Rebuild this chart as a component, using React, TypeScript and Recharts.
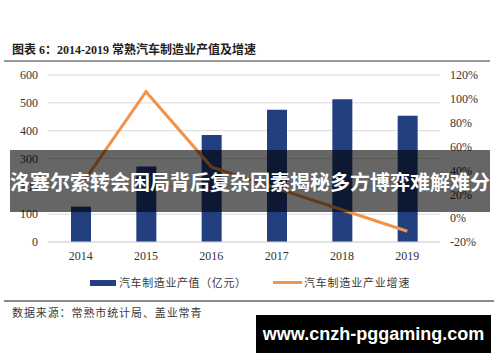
import React from "react";
import {
  ComposedChart,
  Bar,
  Line,
  XAxis,
  YAxis,
  CartesianGrid,
} from "recharts";

const years = ["2014", "2015", "2016", "2017", "2018", "2019"];
const outputValues = [127, 271, 384, 475, 513, 454];
const growthRates = [0.27, 1.06, 0.43, 0.25, 0.07, -0.11];
const leftTicks = [0, 100, 200, 300, 400, 500, 600];
const rightTicks = [-0.2, 0, 0.2, 0.4, 0.6, 0.8, 1.0, 1.2];

const seriesNames = ["汽车制造业产值（亿元）", "汽车制造业产业增速"];

const data = years.map((year, i) => ({
  year,
  output: outputValues[i],
  growth: growthRates[i],
}));

const BLUE = "#22407f";
const ORANGE = "#f39249";
const serif = '"Liberation Serif", "Times New Roman", "DejaVu Serif", serif';
const cjk = '"Noto Sans CJK SC", "Noto Sans", sans-serif';
const tickStyle = { fontFamily: serif, fontSize: 12, fill: "#333" };

export default function App() {
  return (
    <div
      style={{
        position: "absolute",
        left: 0,
        top: 0,
        width: 500,
        height: 362,
        background: "#fff",
        overflow: "hidden",
      }}
    >
      <div
        style={{
          position: "absolute",
          left: 12,
          top: 42,
          fontFamily: `"Liberation Serif", "Noto Sans CJK SC", serif`,
          fontWeight: 700,
          fontSize: 12,
          lineHeight: "16px",
          color: "#222",
          whiteSpace: "nowrap",
        }}
      >
        图表 6：2014-2019 常熟汽车制造业产值及增速
      </div>
      <div
        style={{
          position: "absolute",
          left: 4,
          top: 60,
          width: 486,
          height: 2,
          background: "#9a9a9a",
        }}
      />

      <div style={{ position: "absolute", left: 0, top: 0 }}>
        <ComposedChart
          width={500}
          height={270}
          data={data}
          margin={{ top: 75, right: 0, bottom: 0, left: 0 }}
        >
          <CartesianGrid
            yAxisId="left"
            vertical={false}
            stroke="#d9d9d9"
            strokeWidth={1}
          />
          <XAxis
            dataKey="year"
            height={28}
            tickLine={false}
            axisLine={{ stroke: "#d9d9d9" }}
            tickSize={0}
            tickMargin={9}
            tick={tickStyle}
          />
          <YAxis
            yAxisId="left"
            orientation="left"
            width={48}
            domain={[0, 600]}
            ticks={leftTicks}
            tickLine={false}
            axisLine={false}
            tickSize={0}
            tickMargin={10}
            tick={tickStyle}
          />
          <YAxis
            yAxisId="right"
            orientation="right"
            width={60}
            domain={[-0.2, 1.2]}
            ticks={rightTicks}
            tickFormatter={(v: number) => `${Math.round(v * 100)}%`}
            tickLine={false}
            axisLine={false}
            tickSize={0}
            tickMargin={10}
            tick={{ ...tickStyle, textAnchor: "start" }}
          />
          <Bar
            yAxisId="left"
            dataKey="output"
            name={seriesNames[0]}
            fill={BLUE}
            barSize={20}
            isAnimationActive={false}
          />
          <Line
            yAxisId="right"
            dataKey="growth"
            name={seriesNames[1]}
            type="linear"
            stroke={ORANGE}
            strokeWidth={3}
            dot={false}
            activeDot={false}
            isAnimationActive={false}
          />
        </ComposedChart>
      </div>

      {/* legend */}
      <div
        style={{
          position: "absolute",
          left: 90,
          top: 280,
          width: 26,
          height: 6,
          background: BLUE,
        }}
      />
      <div
        style={{
          position: "absolute",
          left: 119,
          top: 274,
          fontFamily: cjk,
          fontSize: 11,
          letterSpacing: 0.6,
          lineHeight: "16px",
          color: "#3a3a3a",
          whiteSpace: "nowrap",
        }}
      >
        {seriesNames[0]}
      </div>
      <div
        style={{
          position: "absolute",
          left: 273,
          top: 281,
          width: 29,
          height: 3,
          background: ORANGE,
        }}
      />
      <div
        style={{
          position: "absolute",
          left: 304,
          top: 274,
          fontFamily: cjk,
          fontSize: 11,
          letterSpacing: 0.8,
          lineHeight: "16px",
          color: "#3a3a3a",
          whiteSpace: "nowrap",
        }}
      >
        {seriesNames[1]}
      </div>

      <div
        style={{
          position: "absolute",
          left: 4,
          top: 300,
          width: 490,
          height: 1.5,
          background: "#8a8a8a",
        }}
      />
      <div
        style={{
          position: "absolute",
          left: 12,
          top: 304,
          fontFamily: cjk,
          fontSize: 11,
          letterSpacing: 0.9,
          lineHeight: "16px",
          color: "#3a3a3a",
          whiteSpace: "nowrap",
        }}
      >
        数据来源：常熟市统计局、盖业常青
      </div>

      {/* overlay banner */}
      <div
        style={{
          position: "absolute",
          left: 10,
          top: 150,
          width: 480,
          height: 62,
          background: "rgba(0,0,0,0.6)",
          display: "flex",
          alignItems: "center",
          justifyContent: "center",
        }}
      >
        <span
          style={{
            fontFamily: cjk,
            fontWeight: 700,
            fontSize: 20,
            color: "#fff",
            whiteSpace: "nowrap",
          }}
        >
          洛塞尔索转会困局背后复杂因素揭秘多方博弈难解难分
        </span>
      </div>

      {/* watermark */}
      <div
        style={{
          position: "absolute",
          left: 256,
          top: 315,
          width: 235,
          height: 38,
          background: "#000",
          display: "flex",
          alignItems: "center",
          justifyContent: "center",
        }}
      >
        <span
          style={{
            fontFamily: '"Liberation Sans", Arial, sans-serif',
            fontWeight: 700,
            fontSize: 18,
            color: "#fff",
            whiteSpace: "nowrap",
          }}
        >
          www.cnzh-pggaming.com
        </span>
      </div>
    </div>
  );
}
